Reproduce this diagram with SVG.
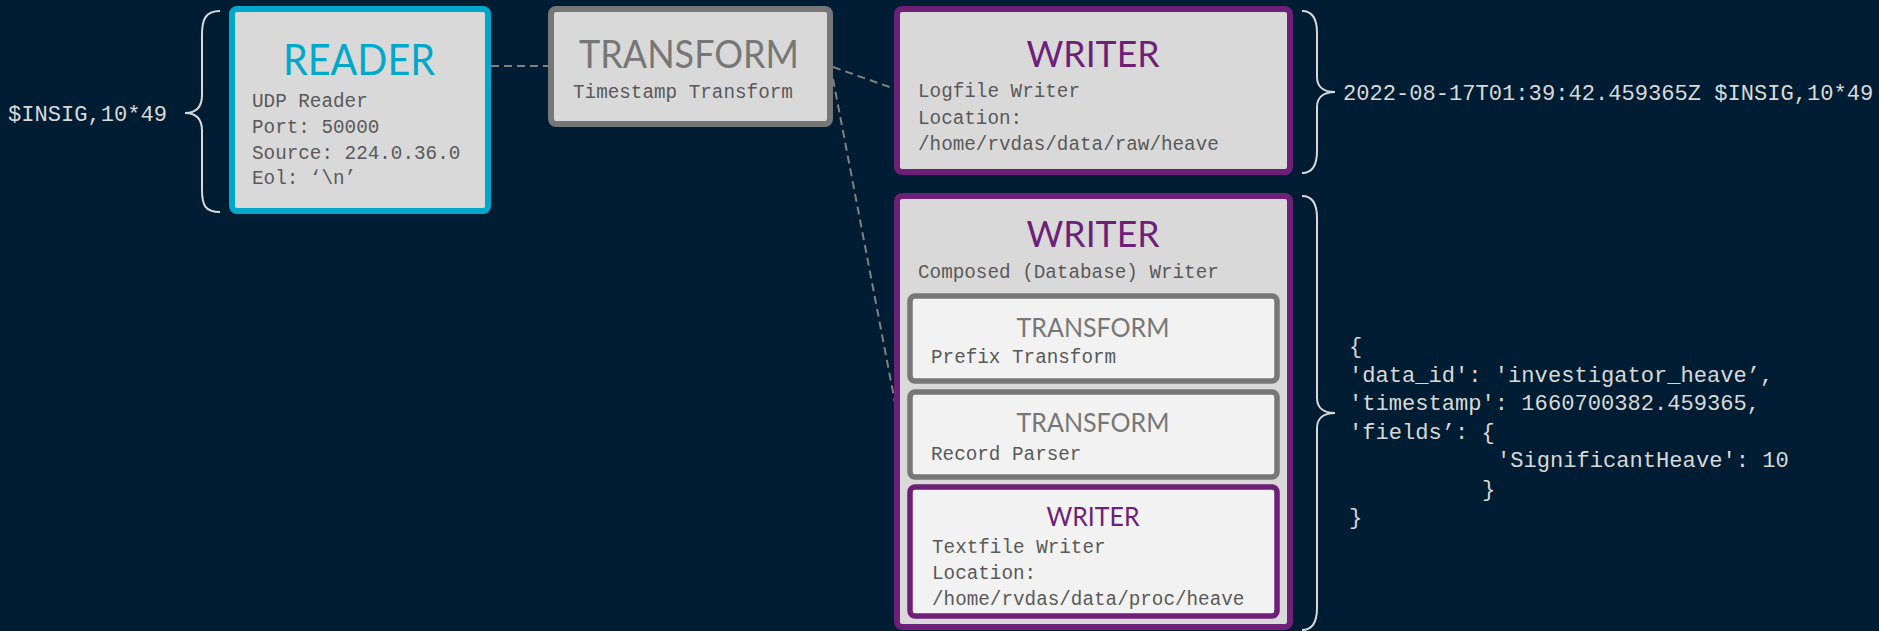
<svg xmlns="http://www.w3.org/2000/svg" width="1879" height="631" viewBox="0 0 1879 631">
  <style>
    .bg { fill: #011d33; }
    .box { fill: #d9d9d9; stroke-width: 6; }
    .inner { fill: #f2f2f2; stroke-width: 5.5; }
    .reader { stroke: #00a8cc; }
    .xform { stroke: #777777; }
    .writer { stroke: #6e1f78; }
    .title { font-family: Lato, "Open Sans", sans-serif; text-anchor: middle; }
    .t-reader { fill: #00a8cc; }
    .t-xform { fill: #777777; }
    .t-writer { fill: #6e1f78; }
    .mono { font-family: "Liberation Mono", "DejaVu Sans Mono", monospace; font-size: 19.3px; fill: #595959; }
    .out { font-family: "Liberation Mono", "DejaVu Sans Mono", monospace; font-size: 22.1px; fill: #d9d9d9; }
    .brace { fill: none; stroke: #d9d9d9; stroke-width: 2; }
    .link { fill: none; stroke: #808080; stroke-width: 2; stroke-dasharray: 8 5; }
  </style>

  <rect class="bg" x="0" y="0" width="1879" height="631"/>

  <!-- dashed links between stages -->
  <g id="connectors">
    <line class="link" x1="491" y1="66" x2="548" y2="66"/>
    <line class="link" x1="833" y1="67" x2="895" y2="89"/>
    <line class="link" x1="833" y1="79" x2="897" y2="413"/>
  </g>

  <!-- input record and its brace -->
  <g id="input-record">
    <text class="out" x="8" y="121">$INSIG,10*49</text>
    <path class="brace" d="M220,11 C205,11 202,20 202,35 L202,95 C202,108 195,113 185,113 C195,113 202,118 202,131 L202,190 C202,205 205,212 220,212"/>
  </g>

  <g id="reader">
    <rect class="box reader" x="232" y="9" width="256" height="202" rx="5"/>
    <text class="title t-reader" x="359" y="75" font-size="42" textLength="152" lengthAdjust="spacingAndGlyphs">READER</text>
    <text class="mono" x="252" y="107">UDP Reader</text>
    <text class="mono" x="252" y="133">Port: 50000</text>
    <text class="mono" x="252" y="158.5">Source: 224.0.36.0</text>
    <text class="mono" x="252" y="184">Eol: ‘\n’</text>
  </g>

  <g id="timestamp-transform">
    <rect class="box xform" x="551" y="9" width="279" height="115" rx="5"/>
    <text class="title t-xform" x="689" y="68" font-size="38.5" textLength="220" lengthAdjust="spacingAndGlyphs">TRANSFORM</text>
    <text class="mono" x="573" y="98">Timestamp Transform</text>
  </g>

  <g id="logfile-writer">
    <rect class="box writer" x="897" y="9" width="393" height="163" rx="5"/>
    <text class="title t-writer" x="1093" y="67" font-size="37" textLength="133" lengthAdjust="spacingAndGlyphs">WRITER</text>
    <text class="mono" x="918" y="97">Logfile Writer</text>
    <text class="mono" x="918" y="123.5">Location:</text>
    <text class="mono" x="918" y="150">/home/rvdas/data/raw/heave</text>
  </g>

  <!-- raw log output -->
  <g id="raw-output">
    <path class="brace" d="M1302,11 C1313,11 1317,19 1317,33 L1317,77 C1317,87 1324,92 1335,92 C1324,92 1317,97 1317,107 L1317,151 C1317,165 1313,173 1302,173"/>
    <text class="out" x="1343" y="100">2022-08-17T01:39:42.459365Z $INSIG,10*49</text>
  </g>

  <g id="composed-writer">
    <rect class="box writer" x="897" y="196" width="393" height="431" rx="5"/>
    <text class="title t-writer" x="1093" y="247" font-size="37" textLength="133" lengthAdjust="spacingAndGlyphs">WRITER</text>
    <text class="mono" x="918" y="278">Composed (Database) Writer</text>

    <g id="prefix-transform">
      <rect class="inner xform" x="910" y="296" width="367" height="85" rx="5"/>
      <text class="title t-xform" x="1093" y="337" font-size="26.5" textLength="153" lengthAdjust="spacingAndGlyphs">TRANSFORM</text>
      <text class="mono" x="931" y="363">Prefix Transform</text>
    </g>

    <g id="record-parser">
      <rect class="inner xform" x="910" y="392" width="367" height="85" rx="5"/>
      <text class="title t-xform" x="1093" y="432" font-size="26.5" textLength="153" lengthAdjust="spacingAndGlyphs">TRANSFORM</text>
      <text class="mono" x="931" y="460">Record Parser</text>
    </g>

    <g id="textfile-writer">
      <rect class="inner writer" x="910" y="487" width="367" height="129" rx="5"/>
      <text class="title t-writer" x="1093" y="526" font-size="26.5" textLength="93" lengthAdjust="spacingAndGlyphs">WRITER</text>
      <text class="mono" x="932" y="553">Textfile Writer</text>
      <text class="mono" x="932" y="579">Location:</text>
      <text class="mono" x="932" y="605">/home/rvdas/data/proc/heave</text>
    </g>
  </g>

  <!-- parsed record output -->
  <g id="db-output">
    <path class="brace" d="M1302,196 C1313,196 1317,204 1317,218 L1317,398 C1317,408 1324,413 1335,413 C1324,413 1317,418 1317,428 L1317,608 C1317,622 1313,630 1302,630"/>
    <text class="out" x="1349" y="353">{</text>
    <text class="out" x="1349" y="381.5">'data_id': 'investigator_heave’,</text>
    <text class="out" x="1349" y="410">'timestamp': 1660700382.459365,</text>
    <text class="out" x="1349" y="438.5">'fields’: {</text>
    <text class="out" x="1497" y="467">'SignificantHeave': 10</text>
    <text class="out" x="1482" y="495.5">}</text>
    <text class="out" x="1349" y="524">}</text>
  </g>
</svg>
